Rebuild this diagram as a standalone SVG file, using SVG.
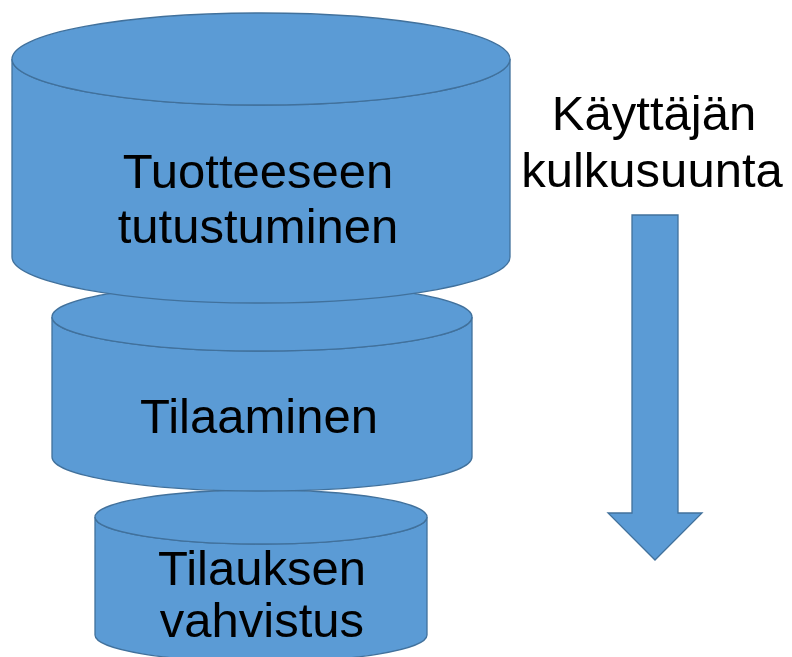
<svg xmlns="http://www.w3.org/2000/svg" width="792" height="657" viewBox="0 0 792 657">
<style>
.shape{fill:#5B9BD5;stroke:#41719C;stroke-width:1.3}
.lbl{font-family:"Liberation Sans",Arial,sans-serif;font-size:49px;fill:#000;text-anchor:middle}
</style>
<rect width="792" height="657" fill="#fff"/>
<g id="cyl3">
<path class="shape" d="M95,517 L95,635 A166,27 0 0 0 427,635 L427,517 A166,27 0 0 1 95,517 Z"/>
<ellipse class="shape" cx="261" cy="517" rx="166" ry="27"/>
<text class="lbl" x="262" y="585">Tilauksen</text>
<text class="lbl" x="262" y="637">vahvistus</text>
</g>
<g id="cyl2">
<path class="shape" d="M52,317 L52,457 A210,34 0 0 0 472,457 L472,317 A210,34 0 0 1 52,317 Z"/>
<ellipse class="shape" cx="262" cy="317" rx="210" ry="34"/>
<text class="lbl" x="259" y="433">Tilaaminen</text>
</g>
<g id="cyl1">
<path class="shape" d="M12,59 L12,257 A249,46 0 0 0 510,257 L510,59 A249,46 0 0 1 12,59 Z"/>
<ellipse class="shape" cx="261" cy="59" rx="249" ry="46"/>
<text class="lbl" x="258" y="188">Tuotteeseen</text>
<text class="lbl" x="258" y="243">tutustuminen</text>
</g>
<g id="flow">
<text class="lbl" x="654" y="130">Käyttäjän</text>
<text class="lbl" x="652" y="187">kulkusuunta</text>
</g>
<g id="connectors">
<path class="shape" d="M632,215 L678,215 L678,513 L702,513 L655,560 L608,513 L632,513 Z"/>
</g>
</svg>
